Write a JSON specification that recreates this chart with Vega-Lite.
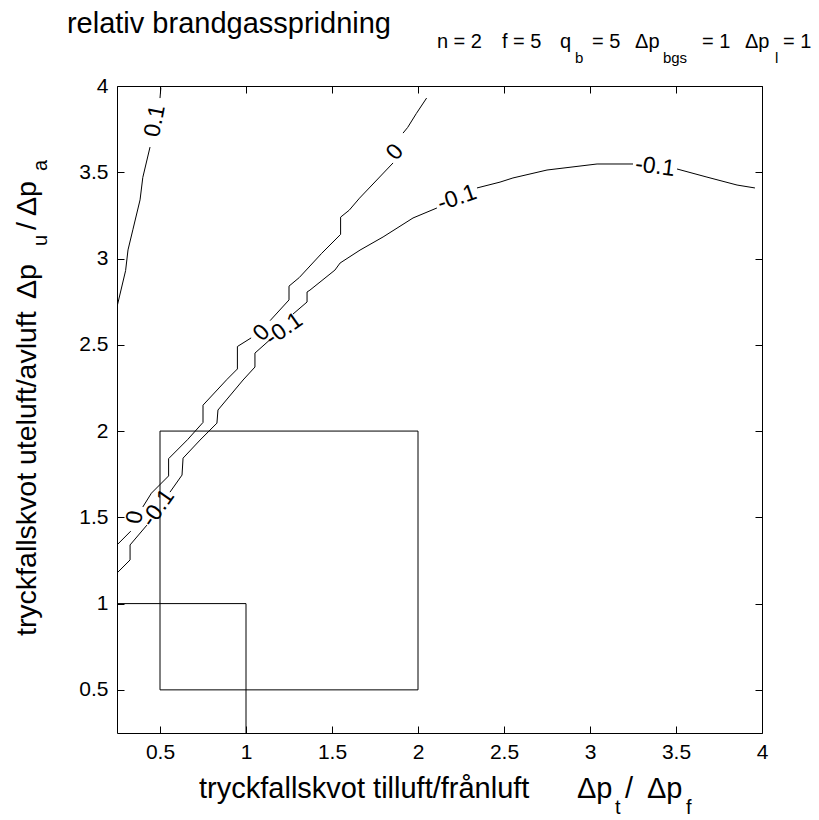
{
  "$schema": "https://vega.github.io/schema/vega-lite/v6.json",
  "width": 645,
  "height": 647,
  "autosize": {"type": "none"},
  "padding": {"left": 117, "top": 86, "right": 57, "bottom": 87},
  "background": "white",
  "config": {
    "view": {"stroke": "black", "strokeWidth": 1},
    "font": "Liberation Sans",
    "axis": {"grid": false, "domain": false, "tickColor": "black", "tickWidth": 1, "labelColor": "black", "labelFont": "Liberation Sans", "labelFontSize": 21, "labelFlush": false, "labelOverlap": false, "labelBound": false, "title": null}
  },
  "datasets": {
    "lines": [
      {"seg": "c1a", "i": 1, "x": 0.25, "y": 2.72},
      {"seg": "c1a", "i": 2, "x": 0.3, "y": 2.93},
      {"seg": "c1a", "i": 3, "x": 0.314, "y": 3.05},
      {"seg": "c1a", "i": 4, "x": 0.343, "y": 3.17},
      {"seg": "c1a", "i": 5, "x": 0.384, "y": 3.34},
      {"seg": "c1a", "i": 6, "x": 0.4, "y": 3.47},
      {"seg": "c1a", "i": 7, "x": 0.442, "y": 3.646},
      {"seg": "c1b", "i": 1, "x": 0.5, "y": 3.93},
      {"seg": "c1b", "i": 2, "x": 0.505, "y": 3.99},
      {"seg": "z1", "i": 1, "x": 0.25, "y": 1.34},
      {"seg": "z1", "i": 2, "x": 0.33, "y": 1.42},
      {"seg": "z2", "i": 1, "x": 0.4, "y": 1.56},
      {"seg": "z2", "i": 2, "x": 0.45, "y": 1.64},
      {"seg": "z2", "i": 3, "x": 0.55, "y": 1.74},
      {"seg": "z2", "i": 4, "x": 0.55, "y": 1.84},
      {"seg": "z2", "i": 5, "x": 0.66, "y": 1.95},
      {"seg": "z2", "i": 6, "x": 0.75, "y": 2.05},
      {"seg": "z2", "i": 7, "x": 0.75, "y": 2.15},
      {"seg": "z2", "i": 8, "x": 0.89, "y": 2.3},
      {"seg": "z2", "i": 9, "x": 0.95, "y": 2.36},
      {"seg": "z2", "i": 10, "x": 0.95, "y": 2.49},
      {"seg": "z2", "i": 11, "x": 1.03, "y": 2.54},
      {"seg": "z3", "i": 1, "x": 1.14, "y": 2.64},
      {"seg": "z3", "i": 2, "x": 1.25, "y": 2.76},
      {"seg": "z3", "i": 3, "x": 1.25, "y": 2.84},
      {"seg": "z3", "i": 4, "x": 1.31, "y": 2.89},
      {"seg": "z3", "i": 5, "x": 1.44, "y": 3.03},
      {"seg": "z3", "i": 6, "x": 1.55, "y": 3.14},
      {"seg": "z3", "i": 7, "x": 1.55, "y": 3.24},
      {"seg": "z3", "i": 8, "x": 1.6, "y": 3.28},
      {"seg": "z3", "i": 9, "x": 1.66, "y": 3.35},
      {"seg": "z3", "i": 10, "x": 1.855, "y": 3.554},
      {"seg": "z4", "i": 1, "x": 1.913, "y": 3.727},
      {"seg": "z4", "i": 2, "x": 1.94, "y": 3.76},
      {"seg": "z4", "i": 3, "x": 1.99, "y": 3.84},
      {"seg": "z4", "i": 4, "x": 2.05, "y": 3.93},
      {"seg": "m1", "i": 1, "x": 0.25, "y": 1.177},
      {"seg": "m1", "i": 2, "x": 0.326, "y": 1.253},
      {"seg": "m1", "i": 3, "x": 0.326, "y": 1.34},
      {"seg": "m1", "i": 4, "x": 0.424, "y": 1.455},
      {"seg": "m2", "i": 1, "x": 0.558, "y": 1.646},
      {"seg": "m2", "i": 2, "x": 0.628, "y": 1.745},
      {"seg": "m2", "i": 3, "x": 0.634, "y": 1.843},
      {"seg": "m2", "i": 4, "x": 0.733, "y": 1.948},
      {"seg": "m2", "i": 5, "x": 0.831, "y": 2.046},
      {"seg": "m2", "i": 6, "x": 0.837, "y": 2.122},
      {"seg": "m2", "i": 7, "x": 0.983, "y": 2.296},
      {"seg": "m2", "i": 8, "x": 1.052, "y": 2.371},
      {"seg": "m2", "i": 9, "x": 1.052, "y": 2.452},
      {"seg": "m2", "i": 10, "x": 1.14, "y": 2.53},
      {"seg": "m3", "i": 1, "x": 1.273, "y": 2.678},
      {"seg": "m3", "i": 2, "x": 1.355, "y": 2.748},
      {"seg": "m3", "i": 3, "x": 1.355, "y": 2.806},
      {"seg": "m3", "i": 4, "x": 1.372, "y": 2.817},
      {"seg": "m3", "i": 5, "x": 1.517, "y": 2.933},
      {"seg": "m3", "i": 6, "x": 1.547, "y": 2.974},
      {"seg": "m3", "i": 7, "x": 1.663, "y": 3.049},
      {"seg": "m3", "i": 8, "x": 1.797, "y": 3.125},
      {"seg": "m3", "i": 9, "x": 1.971, "y": 3.235},
      {"seg": "m3", "i": 10, "x": 2.11, "y": 3.293},
      {"seg": "m4", "i": 1, "x": 2.343, "y": 3.409},
      {"seg": "m4", "i": 2, "x": 2.477, "y": 3.443},
      {"seg": "m4", "i": 3, "x": 2.552, "y": 3.467},
      {"seg": "m4", "i": 4, "x": 2.75, "y": 3.513},
      {"seg": "m4", "i": 5, "x": 3.041, "y": 3.548},
      {"seg": "m4", "i": 6, "x": 3.25, "y": 3.548},
      {"seg": "m5", "i": 1, "x": 3.506, "y": 3.519},
      {"seg": "m5", "i": 2, "x": 3.68, "y": 3.472},
      {"seg": "m5", "i": 3, "x": 3.855, "y": 3.426},
      {"seg": "m5", "i": 4, "x": 3.959, "y": 3.409},
      {"seg": "boxA", "i": 1, "x": 0.25, "y": 1},
      {"seg": "boxA", "i": 2, "x": 1, "y": 1},
      {"seg": "boxA", "i": 3, "x": 1, "y": 0.25},
      {"seg": "boxB", "i": 1, "x": 0.5, "y": 0.5},
      {"seg": "boxB", "i": 2, "x": 0.5, "y": 2},
      {"seg": "boxB", "i": 3, "x": 2, "y": 2},
      {"seg": "boxB", "i": 4, "x": 2, "y": 0.5},
      {"seg": "boxB", "i": 5, "x": 0.5, "y": 0.5}
    ],
    "clabels": [
      {"label": "0.1", "x": 0.471, "y": 3.797, "angle": 281},
      {"label": "0", "x": 0.355, "y": 1.5, "angle": 280},
      {"label": "-0.1", "x": 0.488, "y": 1.554, "angle": 305},
      {"label": "0", "x": 1.09, "y": 2.57, "angle": 315},
      {"label": "-0.1", "x": 1.221, "y": 2.591, "angle": 325},
      {"label": "0", "x": 1.866, "y": 3.617, "angle": 310},
      {"label": "-0.1", "x": 2.227, "y": 3.351, "angle": 341},
      {"label": "-0.1", "x": 3.378, "y": 3.533, "angle": 7}
    ],
    "notes": [
      {"role": "title", "text": "relativ brandgasspridning", "x": -0.041, "y": 4.307},
      {"role": "sub", "text": "n = 2", "x": 2.11, "y": 4.22},
      {"role": "sub", "text": "f = 5", "x": 2.488, "y": 4.22},
      {"role": "sub", "text": "q", "x": 2.826, "y": 4.22},
      {"role": "sub", "text": "= 5", "x": 3.012, "y": 4.22},
      {"role": "sub", "text": "Δp", "x": 3.262, "y": 4.22},
      {"role": "sub", "text": "= 1", "x": 3.651, "y": 4.22},
      {"role": "sub", "text": "Δp", "x": 3.901, "y": 4.22},
      {"role": "sub", "text": "= 1", "x": 4.122, "y": 4.22},
      {"role": "subsub", "text": "b", "x": 2.913, "y": 4.132},
      {"role": "subsub", "text": "bgs", "x": 3.424, "y": 4.132},
      {"role": "subsub", "text": "l", "x": 4.076, "y": 4.132},
      {"role": "xtitle", "text": "tryckfallskvot tilluft/frånluft", "x": 0.727, "y": -0.128},
      {"role": "xtitle", "text": "Δp", "x": 2.924, "y": -0.128},
      {"role": "xtitle", "text": "/", "x": 3.203, "y": -0.128},
      {"role": "xtitle", "text": "Δp", "x": 3.331, "y": -0.128},
      {"role": "xsub", "text": "t", "x": 3.145, "y": -0.22},
      {"role": "xsub", "text": "f", "x": 3.558, "y": -0.22},
      {"role": "ytitle", "text": "tryckfallskvot uteluft/avluft", "x": -0.221, "y": 0.812},
      {"role": "ytitle", "text": "Δp", "x": -0.221, "y": 2.765},
      {"role": "ytitle", "text": "/", "x": -0.221, "y": 3.165},
      {"role": "ytitle", "text": "Δp", "x": -0.221, "y": 3.246},
      {"role": "ysub", "text": "u", "x": -0.157, "y": 3.072},
      {"role": "ysub", "text": "a", "x": -0.157, "y": 3.507}
    ]
  },
  "layer": [
    {
      "data": {"name": "lines"},
      "mark": {"type": "line", "color": "black", "strokeWidth": 1, "clip": true},
      "encoding": {
        "x": {"field": "x", "type": "quantitative", "scale": {"domain": [0.25, 4], "nice": false, "zero": false},
              "axis": {"orient": "bottom", "values": [0.5, 1, 1.5, 2, 2.5, 3, 3.5, 4], "format": "~g", "tickSize": -7, "labelPadding": 15}},
        "y": {"field": "y", "type": "quantitative", "scale": {"domain": [0.25, 4], "nice": false, "zero": false},
              "axis": {"orient": "left", "values": [0.5, 1, 1.5, 2, 2.5, 3, 3.5, 4], "format": "~g", "tickSize": -7, "labelPadding": 16}},
        "detail": {"field": "seg"},
        "order": {"field": "i", "type": "quantitative"}
      }
    },
    {
      "data": {"name": "clabels"},
      "mark": {"type": "text", "fontSize": 23, "align": "center", "baseline": "middle", "font": "Liberation Sans"},
      "encoding": {
        "x": {"field": "x", "type": "quantitative", "scale": {"domain": [0.25, 4], "nice": false, "zero": false},
              "axis": {"orient": "top", "labels": false, "values": [0.5, 1, 1.5, 2, 2.5, 3, 3.5, 4], "tickSize": -7}},
        "y": {"field": "y", "type": "quantitative", "scale": {"domain": [0.25, 4], "nice": false, "zero": false},
              "axis": {"orient": "right", "labels": false, "values": [0.5, 1, 1.5, 2, 2.5, 3, 3.5, 4], "tickSize": -7}},
        "text": {"field": "label"},
        "angle": {"field": "angle", "type": "quantitative", "scale": null}
      }
    },
    {
      "data": {"name": "notes"},
      "transform": [{"filter": "datum.role === 'title'"}],
      "mark": {"type": "text", "fontSize": 29, "align": "left", "baseline": "alphabetic", "font": "Liberation Sans"},
      "encoding": {
        "x": {"field": "x", "type": "quantitative", "scale": {"domain": [0.25, 4], "nice": false, "zero": false}, "axis": null},
        "y": {"field": "y", "type": "quantitative", "scale": {"domain": [0.25, 4], "nice": false, "zero": false}, "axis": null},
        "text": {"field": "text"}
      }
    },
    {
      "data": {"name": "notes"},
      "transform": [{"filter": "datum.role === 'sub'"}],
      "mark": {"type": "text", "fontSize": 20, "align": "left", "baseline": "alphabetic", "font": "Liberation Sans"},
      "encoding": {
        "x": {"field": "x", "type": "quantitative", "scale": {"domain": [0.25, 4], "nice": false, "zero": false}, "axis": null},
        "y": {"field": "y", "type": "quantitative", "scale": {"domain": [0.25, 4], "nice": false, "zero": false}, "axis": null},
        "text": {"field": "text"}
      }
    },
    {
      "data": {"name": "notes"},
      "transform": [{"filter": "datum.role === 'subsub'"}],
      "mark": {"type": "text", "fontSize": 15, "align": "left", "baseline": "alphabetic", "font": "Liberation Sans"},
      "encoding": {
        "x": {"field": "x", "type": "quantitative", "scale": {"domain": [0.25, 4], "nice": false, "zero": false}, "axis": null},
        "y": {"field": "y", "type": "quantitative", "scale": {"domain": [0.25, 4], "nice": false, "zero": false}, "axis": null},
        "text": {"field": "text"}
      }
    },
    {
      "data": {"name": "notes"},
      "transform": [{"filter": "datum.role === 'xtitle'"}],
      "mark": {"type": "text", "fontSize": 29, "align": "left", "baseline": "alphabetic", "font": "Liberation Sans"},
      "encoding": {
        "x": {"field": "x", "type": "quantitative", "scale": {"domain": [0.25, 4], "nice": false, "zero": false}, "axis": null},
        "y": {"field": "y", "type": "quantitative", "scale": {"domain": [0.25, 4], "nice": false, "zero": false}, "axis": null},
        "text": {"field": "text"}
      }
    },
    {
      "data": {"name": "notes"},
      "transform": [{"filter": "datum.role === 'xsub'"}],
      "mark": {"type": "text", "fontSize": 20, "align": "left", "baseline": "alphabetic", "font": "Liberation Sans"},
      "encoding": {
        "x": {"field": "x", "type": "quantitative", "scale": {"domain": [0.25, 4], "nice": false, "zero": false}, "axis": null},
        "y": {"field": "y", "type": "quantitative", "scale": {"domain": [0.25, 4], "nice": false, "zero": false}, "axis": null},
        "text": {"field": "text"}
      }
    },
    {
      "data": {"name": "notes"},
      "transform": [{"filter": "datum.role === 'ytitle'"}],
      "mark": {"type": "text", "fontSize": 28.5, "align": "left", "baseline": "alphabetic", "angle": 270, "font": "Liberation Sans"},
      "encoding": {
        "x": {"field": "x", "type": "quantitative", "scale": {"domain": [0.25, 4], "nice": false, "zero": false}, "axis": null},
        "y": {"field": "y", "type": "quantitative", "scale": {"domain": [0.25, 4], "nice": false, "zero": false}, "axis": null},
        "text": {"field": "text"}
      }
    },
    {
      "data": {"name": "notes"},
      "transform": [{"filter": "datum.role === 'ysub'"}],
      "mark": {"type": "text", "fontSize": 20, "align": "left", "baseline": "alphabetic", "angle": 270, "font": "Liberation Sans"},
      "encoding": {
        "x": {"field": "x", "type": "quantitative", "scale": {"domain": [0.25, 4], "nice": false, "zero": false}, "axis": null},
        "y": {"field": "y", "type": "quantitative", "scale": {"domain": [0.25, 4], "nice": false, "zero": false}, "axis": null},
        "text": {"field": "text"}
      }
    }
  ],
  "resolve": {"axis": {"x": "independent", "y": "independent"}}
}
